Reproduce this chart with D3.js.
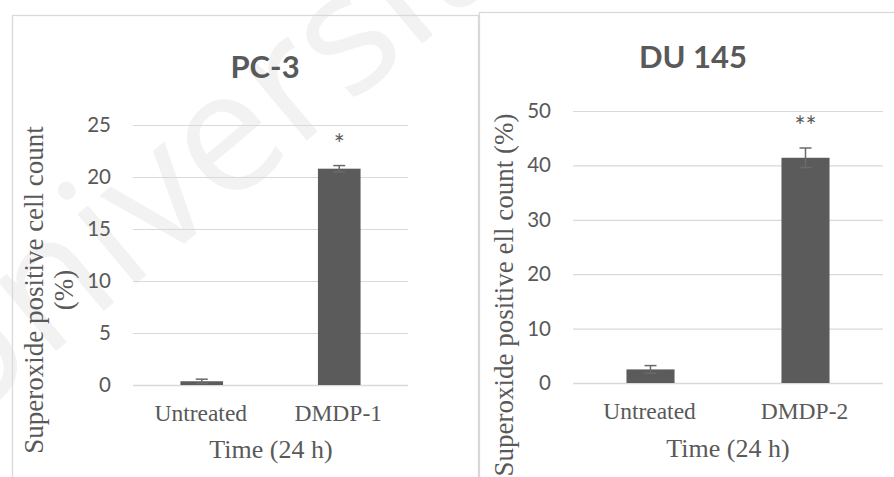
<!DOCTYPE html>
<meta charset="utf-8">
<script src="https://cdn.jsdelivr.net/npm/d3@7"></script>
<style>
body { margin: 0; background: #fff; }
text { fill: #595959; }
.tick text { font: 20.5px Lato, sans-serif; }
.cat { font: 23.5px "Liberation Serif", "Times New Roman", serif; }
.axtitle { font: 26px "Liberation Serif", "Times New Roman", serif; }
.ytitle { font: 27px "Liberation Serif", "Times New Roman", serif; }
.title { font: bold 31px Lato, sans-serif; }
.sig { font: 26px Lato, sans-serif; }
</style>
<body>
<script>

// PC-3
var pc3Categories = ["Untreated", "DMDP-1"];
var pc3Values = [0.36, 20.8];
var pc3Errors = [0.2, 0.3];
var pc3Marks = ["", "*"];
var pc3Ticks = [0, 5, 10, 15, 20, 25];

// DU 145
var du145Categories = ["Untreated", "DMDP-2"];
var du145Values = [2.5, 41.4];
var du145Errors = [0.7, 1.8];
var du145Marks = ["", "**"];
var du145Ticks = [0, 10, 20, 30, 40, 50];

var width = 894,
    height = 477;

var svg = d3.select("body").append("svg")
    .attr("width", width)
    .attr("height", height);

svg.append("rect")
    .attr("width", width)
    .attr("height", height)
    .attr("fill", "#fff");

// faint watermark behind everything
svg.append("text")
    .attr("transform", "translate(-50,440) rotate(-40)")
    .style("font", "170px 'Open Sans', sans-serif")
    .style("fill", "#f2f2f2")
    .text("Universiti");

// chart frames
svg.append("rect")
    .attr("x", 12.5).attr("y", 15.5)
    .attr("width", 466).attr("height", 480)
    .attr("fill", "none").attr("stroke", "#d9d9d9").attr("stroke-width", 1.3);

svg.append("rect")
    .attr("x", 479.5).attr("y", 12.5)
    .attr("width", 430).attr("height", 480)
    .attr("fill", "none").attr("stroke", "#d9d9d9").attr("stroke-width", 1.3);

function drawPanel(p) {
  var x = d3.scaleBand()
      .domain(p.categories)
      .range([p.left, p.right])
      .paddingInner(0.69)
      .paddingOuter(0.345);

  var y = d3.scaleLinear()
      .domain([0, p.ticks[p.ticks.length - 1]])
      .range([p.bottom, p.top]);

  var g = svg.append("g");

  // gridlines + tick labels
  var axis = g.append("g")
      .attr("transform", "translate(" + p.left + ",0)")
      .call(d3.axisLeft(y)
          .tickValues(p.ticks)
          .tickSize(-(p.right - p.left))
          .tickPadding(22));
  axis.select(".domain").remove();
  axis.selectAll(".tick line")
      .attr("stroke", "#d9d9d9")
      .attr("stroke-width", function(d) { return d == 0 ? 1.6 : 1.2; });
  axis.selectAll(".tick text").attr("fill", "#595959");

  var data = p.categories.map(function(c, i) {
    return {cat: c, value: p.values[i], err: p.errors[i], mark: p.marks[i]};
  });

  g.selectAll(".bar")
      .data(data)
      .enter().append("rect")
      .attr("class", "bar")
      .attr("x", function(d) { return x(d.cat); })
      .attr("width", x.bandwidth())
      .attr("y", function(d) { return y(d.value); })
      .attr("height", function(d) { return y(0) - y(d.value); })
      .attr("fill", "#5b5b5b");

  // error bars
  var eb = g.selectAll(".err")
      .data(data)
      .enter().append("g")
      .attr("class", "err")
      .attr("stroke", "#6a6a6a")
      .attr("stroke-width", 1.5);
  eb.append("line")
      .attr("x1", function(d) { return x(d.cat) + x.bandwidth() / 2; })
      .attr("x2", function(d) { return x(d.cat) + x.bandwidth() / 2; })
      .attr("y1", function(d) { return y(d.value - d.err); })
      .attr("y2", function(d) { return y(d.value + d.err); });
  eb.append("line")
      .attr("x1", function(d) { return x(d.cat) + x.bandwidth() / 2 - 6; })
      .attr("x2", function(d) { return x(d.cat) + x.bandwidth() / 2 + 6; })
      .attr("y1", function(d) { return y(d.value + d.err); })
      .attr("y2", function(d) { return y(d.value + d.err); });
  eb.append("line")
      .attr("x1", function(d) { return x(d.cat) + x.bandwidth() / 2 - 6; })
      .attr("x2", function(d) { return x(d.cat) + x.bandwidth() / 2 + 6; })
      .attr("y1", function(d) { return y(d.value - d.err); })
      .attr("y2", function(d) { return y(d.value - d.err); });

  // significance marks
  g.selectAll(".sig")
      .data(data)
      .enter().append("text")
      .attr("class", "sig")
      .attr("text-anchor", "middle")
      .attr("x", function(d) { return x(d.cat) + x.bandwidth() / 2; })
      .attr("y", function(d) { return y(d.value + d.err) - 12; })
      .text(function(d) { return d.mark; });

  // category labels
  g.selectAll(".cat")
      .data(p.categories)
      .enter().append("text")
      .attr("class", "cat")
      .attr("text-anchor", "middle")
      .attr("x", function(d) { return x(d) + x.bandwidth() / 2 - 1; })
      .attr("y", p.catY)
      .text(function(d) { return d; });

  g.append("text")
      .attr("class", "axtitle")
      .attr("text-anchor", "middle")
      .attr("x", p.xTitleX)
      .attr("y", p.xTitleY)
      .text("Time (24 h)");

  g.append("text")
      .attr("class", "title")
      .attr("text-anchor", "middle")
      .attr("x", p.titleX)
      .attr("y", p.titleY)
      .text(p.title);

  var yt = g.append("text")
      .attr("class", "ytitle")
      .attr("text-anchor", "middle")
      .attr("transform", "translate(" + p.yTitleX + "," + p.yTitleY + ") rotate(-90)");
  p.yTitle.forEach(function(line, i) {
    yt.append("tspan")
        .attr("x", 0)
        .attr("y", i * 30)
        .text(line);
  });
}

drawPanel({
  title: "PC-3",
  categories: pc3Categories, values: pc3Values, errors: pc3Errors, marks: pc3Marks, ticks: pc3Ticks,
  left: 133, right: 408, top: 125, bottom: 385,
  catY: 421, xTitleX: 271, xTitleY: 458,
  titleX: 265, titleY: 78,
  yTitle: ["Superoxide positive cell count", "(%)"], yTitleX: 43, yTitleY: 290
});

drawPanel({
  title: "DU 145",
  categories: du145Categories, values: du145Values, errors: du145Errors, marks: du145Marks, ticks: du145Ticks,
  left: 573, right: 883, top: 111, bottom: 383,
  catY: 419, xTitleX: 728, xTitleY: 457,
  titleX: 693, titleY: 68,
  yTitle: ["Superoxide positive ell count (%)"], yTitleX: 513, yTitleY: 295
});

</script>
</body>
